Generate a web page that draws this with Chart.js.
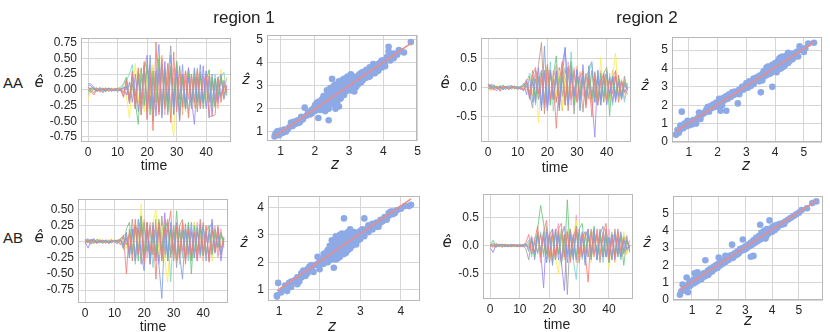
<!DOCTYPE html>
<html>
<head>
<meta charset="utf-8">
<script src="https://cdn.jsdelivr.net/npm/chart.js@4.4.1/dist/chart.umd.min.js"></script>
<style>
  body { margin: 0; background: #fff; width: 830px; height: 332px; position: relative; overflow: hidden;
         font-family: "Liberation Sans", Arial, sans-serif; color: #222; }
  canvas { position: absolute; }
  .lbl { position: absolute; transform: translate(-50%, -50%); white-space: nowrap; line-height: 1; }
</style>
</head>
<body>
<script>
// ---- data ----
const times = [0,1,2,3,4,5,6,7,8,9,10,11,12,13,14,15,16,17,18,19,20,21,22,23,
  24,25,26,27,28,29,30,31,32,33,34,35,36,37,38,39,40,41,42,43,44,45,46,47];
const timeTicks = [0, 10, 20, 30, 40];

// AA, region 1 : residuals over time
const aaR1Err = [
  [0.05,-0.03,-0.08,0.02,-0.04,0.01,0.03,-0.02,0.02,-0.01,0.03,0.00,-0.12,0.15,-0.20,0.28,-0.30,0.35,-0.40,0.45,-0.48,0.30,-0.65,0.76,-0.40,0.50,-0.30,0.42,-0.52,0.60,-0.35,0.38,-0.28,0.30,-0.45,0.25,-0.20,0.32,-0.30,0.15,0.22,-0.42,-0.42,-0.40,0.18,-0.20,0.10,-0.05],
  [0.08,0.06,0.02,-0.03,0.01,-0.02,0.00,0.03,-0.01,0.02,-0.02,0.01,0.03,0.05,-0.18,0.22,-0.10,0.30,-0.25,0.40,-0.35,0.55,-0.30,0.20,0.72,-0.45,0.35,-0.20,0.55,-0.38,0.28,-0.15,0.40,-0.30,0.20,-0.25,0.35,-0.18,0.40,-0.22,0.30,-0.45,0.25,-0.15,0.20,-0.10,0.15,-0.05],
  [-0.02,0.03,0.01,-0.02,0.04,0.00,-0.03,0.02,0.01,-0.01,0.02,0.04,0.10,0.20,-0.15,0.30,-0.20,-0.55,0.35,-0.25,0.45,-0.40,0.30,-0.20,0.50,-0.30,0.25,-0.40,0.35,-0.15,0.45,-0.35,0.20,-0.30,0.28,-0.25,0.30,-0.20,0.25,-0.30,0.15,0.32,-0.25,0.18,-0.10,0.22,-0.05,-0.08],
  [0.10,0.09,0.04,-0.02,0.03,-0.05,0.02,0.01,-0.03,0.02,0.00,-0.02,0.04,-0.08,0.12,-0.20,0.25,-0.35,0.15,0.30,0.55,-0.30,0.20,-0.42,0.35,-0.25,0.45,-0.35,0.30,-0.20,0.40,-0.48,0.25,-0.30,0.35,-0.15,-0.55,0.20,-0.25,0.38,-0.30,0.22,-0.42,0.18,-0.20,0.25,-0.15,0.08],
  [0.00,-0.04,0.02,0.03,-0.02,0.01,-0.01,0.02,0.00,-0.02,0.01,0.02,-0.10,0.18,-0.22,0.10,-0.30,0.25,-0.15,0.38,-0.28,0.20,-0.50,0.30,-0.35,0.42,-0.25,0.15,0.70,-0.40,0.30,-0.50,0.25,-0.20,0.35,-0.30,0.20,-0.35,0.28,-0.20,0.30,-0.15,0.20,-0.25,0.10,-0.12,0.06,0.00],
  [-0.15,-0.02,0.03,-0.01,0.02,-0.03,0.04,-0.02,0.01,0.03,-0.01,0.02,0.08,-0.12,-0.45,0.05,0.42,-0.20,0.30,-0.35,0.25,-0.10,0.40,-0.30,0.55,0.48,-0.20,0.30,-0.40,-0.75,0.35,-0.25,0.20,-0.35,0.30,-0.10,0.25,-0.30,0.15,0.10,-0.20,0.28,-0.35,0.20,-0.10,0.32,-0.15,0.05],
  [0.03,0.01,-0.05,0.02,0.00,0.03,-0.02,-0.01,0.02,0.00,-0.03,0.01,-0.04,0.06,-0.15,0.20,-0.28,0.15,0.32,-0.25,0.40,-0.20,0.35,-0.30,0.25,-0.40,0.30,-0.15,0.38,-0.28,0.45,-0.20,0.25,-0.35,0.30,-0.25,0.20,-0.30,0.22,-0.18,0.25,-0.20,0.15,-0.28,0.20,0.22,-0.10,0.05],
  [-0.05,0.02,0.04,-0.03,0.01,0.02,-0.02,0.03,-0.01,0.01,0.02,-0.02,0.08,0.15,0.25,0.40,-0.30,0.20,-0.40,0.28,-0.15,0.35,-0.45,0.25,-0.30,0.40,-0.20,0.30,-0.45,0.20,-0.30,0.38,-0.22,0.15,-0.40,0.25,-0.20,0.30,-0.15,0.22,-0.25,0.18,-0.30,0.25,-0.15,0.20,0.28,-0.10],
  [0.06,-0.02,0.01,0.03,-0.03,0.02,0.00,-0.02,0.03,-0.01,0.01,0.00,-0.05,0.10,-0.18,0.22,-0.12,0.30,-0.38,0.25,-0.45,0.40,-0.20,0.30,-0.35,0.55,-0.40,0.20,-0.25,0.35,-0.30,0.15,-0.20,0.30,-0.15,0.25,-0.22,0.18,-0.30,0.22,-0.15,0.20,-0.18,0.12,-0.22,0.15,-0.06,0.02],
  [-0.08,0.04,-0.01,0.02,-0.02,0.00,0.02,-0.03,0.01,0.02,-0.02,0.03,-0.03,0.02,-0.08,0.15,-0.20,0.25,-0.10,-0.30,0.20,0.38,-0.25,0.15,-0.35,0.25,-0.15,0.40,-0.28,0.18,-0.20,0.25,-0.40,0.30,-0.15,0.20,-0.28,0.35,-0.20,0.15,-0.22,0.30,-0.18,0.12,-0.30,0.25,-0.05,0.20]
];

// AA, region 2
const aaR2Err = [
  [0.05,0.02,-0.04,0.03,-0.06,0.02,0.01,-0.03,0.02,0.00,-0.02,0.03,-0.05,0.10,-0.15,0.22,0.35,-0.10,0.25,-0.30,0.40,-0.20,0.15,-0.70,0.10,0.45,-0.30,0.35,-0.20,0.30,-0.25,0.20,0.28,-0.35,0.15,-0.50,0.20,-0.30,0.10,0.25,-0.20,0.15,-0.10,0.30,-0.25,0.10,-0.05,-0.10],
  [0.02,0.06,0.03,-0.02,0.01,-0.04,0.02,0.03,-0.01,0.02,-0.03,0.01,0.08,-0.12,0.20,-0.25,0.30,0.15,-0.40,0.72,-0.35,0.30,-0.20,0.25,-0.30,0.40,0.70,-0.25,0.35,-0.15,0.30,-0.40,0.22,-0.20,0.35,0.45,-0.25,0.20,-0.30,0.15,0.25,-0.15,0.20,-0.25,0.10,-0.20,0.05,-0.02],
  [-0.03,0.04,0.00,0.02,-0.02,0.05,-0.01,0.00,0.03,-0.02,0.01,0.02,0.03,0.05,-0.08,0.15,-0.20,0.12,0.30,-0.25,0.40,-0.30,0.20,0.55,-0.20,0.35,-0.25,0.15,0.45,-0.30,0.20,-0.15,0.30,-0.25,0.38,-0.20,0.15,-0.30,0.25,-0.15,0.30,-0.48,0.20,-0.10,0.15,-0.20,0.10,0.05],
  [0.07,0.03,-0.02,-0.05,0.02,0.00,-0.03,0.02,0.04,-0.01,0.00,-0.02,-0.05,0.12,-0.18,0.10,-0.25,0.35,-0.30,0.25,-0.40,0.30,-0.20,0.28,-0.35,0.20,0.68,-0.30,0.25,-0.15,0.32,-0.22,0.40,-0.28,0.15,-0.20,-0.85,0.30,-0.20,0.25,-0.30,0.18,-0.25,0.20,-0.15,0.12,-0.08,0.02],
  [-0.02,0.01,0.05,-0.02,0.03,-0.01,0.02,-0.03,0.00,0.02,0.01,-0.02,-0.02,0.03,-0.10,-0.35,0.15,-0.20,0.10,0.30,-0.35,0.25,-0.15,0.30,-0.40,0.20,-0.30,0.35,0.40,-0.45,0.25,-0.20,0.15,-0.30,0.25,-0.15,0.28,-0.20,0.15,-0.25,0.22,-0.10,0.18,-0.20,0.10,-0.15,0.20,-0.05],
  [-0.04,0.02,0.01,0.04,-0.03,0.02,0.00,0.03,-0.02,0.01,-0.01,0.02,-0.02,0.08,0.20,-0.15,0.25,-0.60,0.15,-0.25,0.35,-0.30,0.20,-0.15,0.30,-0.35,0.25,-0.20,0.40,-0.25,0.15,-0.30,0.20,-0.15,0.25,-0.35,0.20,-0.20,0.53,-0.25,0.18,-0.30,0.20,0.60,-0.20,0.15,-0.10,0.05],
  [0.03,-0.02,0.04,0.01,-0.04,0.03,0.02,-0.02,0.01,0.03,-0.02,0.00,0.04,0.15,-0.20,0.30,-0.15,0.40,0.78,-0.45,0.25,-0.30,0.20,-0.25,0.35,-0.15,0.30,-0.40,0.25,-0.30,0.20,0.15,-0.42,0.25,-0.20,0.30,-0.15,0.20,-0.30,0.25,0.35,-0.25,0.18,-0.20,0.22,-0.12,0.08,-0.03],
  [0.06,-0.03,0.02,0.00,0.03,-0.02,0.01,0.02,-0.03,0.01,0.03,-0.01,0.04,0.10,0.25,0.15,-0.30,0.20,-0.35,0.30,-0.20,0.45,-0.40,0.25,-0.30,0.20,0.35,-0.25,0.62,-0.20,0.30,-0.35,0.25,-0.20,0.30,0.40,-0.25,0.30,-0.20,0.15,-0.28,0.25,-0.30,0.20,-0.15,0.10,-0.25,0.05],
  [-0.01,0.04,-0.03,0.02,0.01,-0.02,0.03,0.00,0.02,-0.02,0.01,0.01,0.02,-0.03,0.05,-0.12,0.20,-0.10,0.25,-0.35,0.30,-0.20,0.15,0.40,-0.25,0.30,-0.20,0.45,-0.30,0.35,-0.25,0.28,-0.15,0.20,0.30,-0.22,0.18,-0.20,0.25,-0.15,0.30,-0.25,0.20,0.28,-0.10,0.15,-0.20,0.08],
  [0.00,-0.05,0.02,-0.01,0.04,0.01,-0.02,0.01,0.00,0.03,-0.01,-0.02,-0.01,0.02,-0.05,0.10,0.25,-0.20,0.15,-0.30,0.35,-0.15,0.30,-0.25,0.20,-0.40,0.25,-0.15,0.30,-0.25,0.38,-0.20,0.15,-0.25,0.20,-0.30,0.25,-0.15,0.30,-0.20,0.15,-0.22,0.30,-0.15,0.20,-0.10,0.15,-0.12]
];

// AB, region 1
const abR1Err = [
  [0.04,-0.02,0.03,0.01,-0.03,0.02,0.00,-0.02,0.01,0.03,-0.01,0.02,-0.05,0.10,-0.50,0.20,-0.30,0.35,-0.20,0.25,-0.35,0.30,-0.15,0.20,-0.58,0.30,-0.25,0.20,0.15,0.48,-0.30,0.25,-0.20,0.30,-0.35,0.20,-0.25,0.15,-0.30,0.35,-0.20,0.25,-0.32,0.18,-0.15,0.22,-0.10,0.03],
  [0.02,0.05,-0.01,0.03,0.00,-0.02,0.02,0.01,-0.03,0.00,0.02,-0.01,0.03,-0.08,0.15,-0.25,0.20,-0.30,0.35,-0.20,-0.45,0.25,-0.30,0.20,0.15,-0.35,-0.88,0.20,-0.25,0.30,-0.15,0.25,-0.20,-0.58,0.20,-0.15,0.30,-0.25,0.15,-0.20,0.25,-0.30,0.20,0.30,-0.15,0.10,-0.20,0.05],
  [-0.02,0.03,0.00,-0.02,0.04,0.01,-0.03,0.02,0.00,-0.01,0.02,0.01,0.05,-0.10,0.20,0.30,-0.15,0.25,-0.30,0.40,-0.20,0.30,-0.25,0.15,-0.20,0.35,-0.15,0.25,-0.30,0.20,-0.25,0.48,-0.20,0.15,-0.25,0.30,-0.50,0.25,-0.15,0.20,-0.22,0.15,0.25,-0.20,0.12,-0.08,0.10,0.00],
  [0.00,-0.10,0.02,0.05,-0.02,0.01,0.03,-0.02,0.00,0.02,-0.01,-0.03,0.02,-0.04,0.06,-0.15,0.12,0.25,-0.20,0.30,-0.25,0.20,-0.35,0.25,-0.30,0.30,-0.20,0.45,-0.30,0.20,-0.15,0.30,-0.25,0.18,-0.30,0.25,-0.20,0.15,-0.30,0.28,-0.20,0.15,-0.25,0.35,-0.18,0.20,-0.30,0.05],
  [0.01,0.03,-0.04,0.02,0.00,0.03,-0.01,0.02,-0.02,0.01,0.00,0.02,0.04,0.08,-0.05,0.12,-0.20,0.25,0.15,0.40,-0.30,0.20,-0.25,0.30,-0.20,0.25,-0.30,0.15,0.35,-0.20,0.25,-0.40,0.20,-0.15,0.28,-0.20,0.15,-0.25,0.22,-0.15,0.30,-0.20,0.12,-0.18,0.20,-0.10,0.15,-0.05],
  [0.05,0.02,0.00,-0.02,0.03,0.05,0.01,-0.01,0.02,0.04,0.00,0.01,-0.02,0.08,-0.10,0.15,-0.20,0.30,-0.15,0.58,-0.30,0.20,-0.25,0.30,0.50,-0.20,0.25,-0.30,-0.63,0.20,-0.15,0.30,-0.20,0.15,-0.25,0.28,-0.10,0.30,-0.20,0.15,0.22,-0.25,0.18,-0.30,0.20,-0.10,0.15,-0.05],
  [-0.03,0.01,0.04,-0.01,0.02,0.00,-0.02,0.03,0.01,-0.02,0.03,0.00,0.05,0.10,0.12,-0.20,0.35,-0.25,0.20,-0.35,0.30,-0.15,0.25,-0.20,0.35,-0.30,0.40,-0.20,0.30,-0.25,0.15,-0.30,0.25,0.35,-0.20,0.15,-0.30,0.30,-0.18,0.25,-0.20,0.15,-0.30,0.22,-0.15,0.25,-0.20,0.08],
  [0.03,-0.01,0.02,0.04,-0.02,0.01,0.02,0.00,-0.01,0.02,0.01,-0.02,0.02,-0.12,0.08,-0.25,0.15,-0.35,0.20,-0.30,0.25,-0.15,0.20,-0.40,0.25,-0.20,0.30,-0.25,0.20,-0.62,0.25,-0.20,0.15,-0.25,0.20,-0.30,0.18,-0.15,0.25,-0.22,0.12,-0.20,0.15,-0.25,0.18,-0.10,0.12,-0.02],
  [-0.01,0.02,-0.03,0.00,0.02,-0.01,0.01,0.02,-0.02,0.00,0.01,0.03,0.01,-0.03,0.05,-0.10,0.18,-0.30,0.20,-0.15,0.35,-0.25,0.30,-0.20,0.25,-0.35,0.15,-0.25,0.30,-0.15,0.20,-0.30,0.25,-0.20,0.15,-0.28,0.22,-0.15,0.30,-0.25,0.18,-0.20,0.15,-0.10,0.25,-0.22,0.20,-0.08],
  [0.02,0.00,0.01,-0.03,0.01,0.02,-0.01,0.00,0.03,-0.01,0.02,0.00,0.01,0.00,-0.04,0.10,-0.15,0.20,-0.10,0.25,-0.20,0.30,-0.35,0.15,-0.25,0.20,-0.30,0.35,-0.15,0.25,-0.20,0.15,-0.35,0.25,-0.20,0.30,-0.15,0.20,-0.25,0.10,-0.30,0.25,0.20,-0.15,0.18,-0.25,0.12,-0.10]
];

// AB, region 2
const abR2Err = [
  [0.02,-0.03,0.04,0.01,-0.02,0.03,0.00,-0.01,0.02,0.01,-0.02,0.00,0.05,0.20,-0.15,0.10,0.35,-0.20,0.25,0.45,-0.30,0.20,-0.25,0.30,0.40,-0.20,0.25,-0.30,0.15,0.30,-0.25,0.20,-0.15,-0.65,0.25,-0.20,0.30,-0.15,0.20,0.40,-0.25,0.15,-0.20,0.30,-0.10,0.15,0.12,-0.05],
  [0.00,0.04,0.01,-0.02,0.03,0.00,-0.02,0.02,0.01,-0.01,0.02,0.01,0.01,-0.02,0.08,-0.15,0.20,-0.10,0.25,-0.30,0.20,-0.35,0.30,-0.25,0.15,0.35,-0.30,0.20,-0.25,0.30,-0.15,0.25,-0.35,0.20,-0.15,0.30,-0.25,0.20,0.35,-0.20,0.15,-0.25,0.20,-0.15,0.25,-0.10,0.18,-0.12],
  [0.01,0.10,-0.02,0.03,0.00,-0.02,0.01,0.02,-0.01,0.00,0.02,-0.01,0.03,-0.05,0.12,-0.20,0.30,0.72,0.40,-0.15,0.20,-0.30,0.25,-0.15,0.30,-0.20,0.82,-0.25,0.15,-0.20,0.30,0.40,-0.15,0.25,-0.20,0.35,-0.25,0.20,-0.15,0.25,-0.30,0.15,0.20,-0.20,0.15,-0.35,0.10,-0.03],
  [-0.03,-0.12,0.02,0.00,0.03,-0.01,0.02,-0.02,0.00,0.01,-0.01,0.02,0.04,-0.10,0.15,-0.25,0.20,-0.10,-0.75,0.25,-0.20,0.30,-0.15,0.20,-0.30,-0.80,0.25,-0.15,0.20,-0.25,0.30,-0.20,0.15,0.30,-0.25,0.20,-0.15,0.25,-0.20,0.30,-0.15,0.20,-0.25,0.15,-0.20,0.10,-0.05,0.01],
  [0.02,0.00,-0.03,0.02,0.01,0.02,-0.01,0.00,0.02,-0.02,0.01,0.00,-0.05,-0.25,0.10,-0.15,0.25,-0.20,0.15,-0.30,0.20,0.30,-0.25,0.15,-0.30,0.20,-0.87,0.25,-0.20,0.35,-0.15,0.20,-0.30,0.25,-0.20,0.15,-0.25,0.30,-0.20,0.15,-0.30,0.20,-0.15,0.25,-0.20,0.12,-0.08,0.00],
  [0.05,0.01,0.02,-0.02,0.00,0.03,-0.01,0.02,-0.03,0.01,0.00,0.02,0.02,0.01,0.05,-0.10,0.15,-0.20,0.10,0.25,-0.25,0.15,-0.20,-0.50,0.25,-0.20,0.30,-0.15,0.20,0.45,-0.25,0.20,-0.15,0.25,-0.30,0.15,-0.20,0.25,-0.15,0.20,-0.40,0.15,-0.25,0.20,-0.10,0.25,-0.15,0.05],
  [-0.02,0.03,0.00,0.02,-0.03,0.01,0.02,0.00,-0.01,0.02,0.01,-0.02,0.01,0.03,-0.08,0.05,-0.12,0.20,-0.15,0.30,-0.25,0.20,-0.20,0.25,-0.30,0.20,-0.15,0.30,-0.20,0.25,-0.30,0.15,0.25,-0.20,0.30,-0.15,0.20,-0.30,0.25,-0.20,0.15,-0.25,0.30,-0.15,0.20,-0.15,0.10,-0.10],
  [-0.01,0.02,-0.02,0.01,0.02,-0.01,0.00,0.03,0.01,-0.02,0.00,0.01,0.00,0.10,-0.20,0.15,-0.15,0.25,-0.20,0.35,-0.30,0.15,-0.25,0.30,-0.35,0.20,-0.15,0.30,-0.25,-0.60,0.20,-0.25,0.15,0.30,-0.20,0.25,-0.15,0.20,-0.30,0.15,-0.20,0.25,-0.15,0.10,-0.25,0.15,-0.05,0.02],
  [0.03,0.00,0.01,-0.01,0.02,0.00,0.01,-0.02,0.02,0.00,-0.01,0.01,-0.02,0.05,0.18,-0.10,0.15,-0.30,0.20,-0.15,0.25,-0.30,0.20,0.40,-0.25,0.15,-0.20,0.30,-0.15,0.55,-0.30,0.20,-0.15,0.25,-0.20,0.15,0.20,-0.25,0.15,-0.20,0.30,-0.15,0.25,-0.20,0.15,-0.10,0.08,-0.04],
  [0.00,-0.02,0.03,0.00,-0.01,0.02,-0.02,0.01,0.00,0.02,-0.01,0.01,0.00,0.02,-0.03,0.08,0.12,-0.25,0.20,-0.15,0.25,-0.20,0.30,-0.15,0.20,-0.25,0.30,-0.20,0.15,-0.30,0.20,-0.15,0.25,-0.20,0.15,0.30,-0.25,0.15,-0.20,0.25,-0.15,0.20,-0.30,0.15,-0.25,0.20,-0.15,0.10]
];

// observed z vs predicted z-hat, as [z, zhat]
const aaR1Pts = [[0.82,0.80],[0.85,0.92],[0.9,1.02],[0.95,0.85],[1.0,1.05],[1.05,0.95],[1.1,1.1],[1.15,1.0],[1.25,1.2],[1.3,1.4],[1.35,1.25],[1.4,1.45],[1.5,1.5],[1.55,1.4],[1.6,1.65],[1.65,1.55],[1.7,2.05],[1.75,1.7],[1.8,1.85],[1.85,1.75],[1.9,1.95],[1.95,2.0],[2.0,1.9],[2.05,2.1],[2.1,2.05],[2.1,1.6],[2.15,2.2],[2.2,2.4],[2.2,2.0],[2.25,2.3],[2.25,1.95],[2.3,2.5],[2.3,2.15],[2.35,2.8],[2.35,2.3],[2.4,2.0],[2.4,2.6],[2.4,1.5],[2.45,2.45],[2.45,2.9],[2.5,2.2],[2.5,2.55],[2.5,3.3],[2.55,2.7],[2.55,2.35],[2.6,2.0],[2.6,2.8],[2.6,3.05],[2.65,2.5],[2.65,2.9],[2.7,2.65],[2.7,3.2],[2.7,2.1],[2.75,2.8],[2.75,2.45],[2.8,3.0],[2.8,2.6],[2.85,2.95],[2.85,3.3],[2.9,2.75],[2.9,3.1],[2.95,2.85],[3.0,3.2],[3.0,2.9],[3.05,3.5],[3.05,3.05],[3.1,2.85],[3.1,3.25],[3.15,3.1],[3.2,3.4],[3.2,2.95],[3.25,3.3],[3.3,3.5],[3.3,3.15],[3.35,3.3],[3.4,3.6],[3.4,3.25],[3.45,3.45],[3.5,3.35],[3.5,3.7],[3.55,3.5],[3.6,3.8],[3.6,3.4],[3.65,3.6],[3.7,3.95],[3.7,3.55],[3.75,3.7],[3.8,3.85],[3.85,3.65],[3.9,4.0],[3.95,3.8],[4.0,4.1],[4.0,3.9],[4.05,4.05],[4.1,4.25],[4.15,4.5],[4.2,4.1],[4.25,4.3],[4.3,4.4],[4.4,4.35],[4.45,4.55],[4.8,4.9],[2.05,2.25],[2.15,1.95],[2.55,3.0],[2.65,2.2],[2.95,3.4],[3.15,2.75],[3.35,3.55],[1.45,1.35],
  [2.2,2.15],[2.25,2.55],[2.3,1.9],[2.35,2.1],[2.4,2.75],[2.45,2.25],[2.5,2.4],[2.5,2.85],[2.55,2.2],[2.6,2.55],[2.6,2.35],[2.65,2.75],[2.7,2.95],[2.7,2.4],[2.75,3.05],[2.8,2.75],[2.8,3.25],[2.85,2.6],[2.9,3.0],[2.95,3.15],[3.0,3.05],[3.05,2.8],[3.1,3.1],[3.15,3.35],[3.2,3.2],[3.25,3.05],[3.3,3.35],[3.35,3.15],[3.45,3.6],[3.55,3.65],[3.65,3.75],[3.75,3.55],[3.85,3.95],[3.95,4.1],[4.05,3.85],[4.15,4.15],[4.3,4.2],[4.5,4.5],[4.6,4.45],[1.2,1.1],[1.6,1.5],[1.9,1.8],[2.0,2.15],[2.1,2.3],[2.4,2.4],[2.55,2.5],[2.65,2.65],[2.9,2.95],[3.4,3.4],[4.15,4.7]];

const aaR2Pts = [[0.55,0.40],[0.6,0.65],[0.65,0.5],[0.7,0.9],[0.75,1.65],[0.8,0.75],[0.85,1.0],[0.9,0.85],[0.95,1.15],[1.0,0.9],[1.05,1.1],[1.1,0.95],[1.15,1.2],[1.2,1.05],[1.3,1.3],[1.35,1.6],[1.4,1.25],[1.45,1.5],[1.55,1.6],[1.6,1.75],[1.65,1.9],[1.7,1.65],[1.75,1.95],[1.8,1.85],[1.85,2.05],[1.9,1.9],[1.95,2.15],[2.0,2.05],[2.05,2.35],[2.1,2.2],[2.15,2.0],[2.2,2.4],[2.25,2.3],[2.3,2.5],[2.35,2.35],[2.1,1.7],[2.3,1.7],[2.4,2.6],[2.45,2.45],[2.5,2.7],[2.55,2.55],[2.6,2.75],[2.7,2.1],[2.7,2.65],[2.75,2.85],[2.8,2.8],[2.85,3.0],[2.9,2.85],[2.95,3.05],[3.0,3.2],[3.0,2.95],[3.05,3.1],[3.1,3.3],[3.15,3.05],[3.2,3.25],[3.25,3.45],[3.3,3.3],[3.35,3.5],[3.4,3.35],[3.45,3.6],[3.5,2.7],[3.5,3.45],[3.55,3.7],[3.6,3.55],[3.6,3.85],[3.65,3.6],[3.7,3.9],[3.7,3.65],[3.75,3.8],[3.8,4.0],[3.8,3.7],[3.85,3.95],[3.9,3.0],[3.9,4.2],[3.9,3.85],[3.95,4.05],[4.0,4.3],[4.0,3.9],[4.05,4.1],[4.1,4.4],[4.1,3.95],[4.15,4.2],[4.2,4.6],[4.2,4.0],[4.25,4.35],[4.3,4.5],[4.3,4.1],[4.35,4.4],[4.4,4.7],[4.45,4.3],[4.5,4.55],[4.55,4.75],[4.6,4.5],[4.7,4.8],[4.8,4.65],[4.85,5.2],[5.0,4.9],[5.15,5.35],[5.35,5.4],[4.25,4.65],[4.45,4.85],[4.05,3.8],[3.75,4.1],[4.15,4.55],[3.55,3.35],[1.25,1.0],[2.75,2.6],[3.25,3.15],[4.35,4.2],
  [3.4,3.5],[3.45,3.3],[3.5,3.6],[3.55,3.55],[3.6,3.7],[3.65,3.8],[3.7,3.75],[3.75,3.95],[3.8,3.85],[3.85,4.1],[3.85,3.75],[3.9,4.0],[3.95,4.2],[3.95,3.9],[4.0,4.05],[4.05,4.3],[4.05,3.95],[4.1,4.15],[4.15,4.4],[4.15,4.0],[4.2,4.25],[4.25,4.5],[4.25,4.15],[4.3,4.3],[4.35,4.6],[4.4,4.45],[4.45,4.6],[4.5,4.4],[4.55,4.6],[4.6,4.8],[4.65,4.6],[4.75,4.9],[2.95,3.0],[3.05,2.95],[3.15,3.25],[3.25,3.2],[3.35,3.4],[2.6,2.6],[2.85,2.9],[1.85,1.95],[2.0,1.95],[2.2,2.25],[1.7,1.8],[1.5,1.55],[0.9,0.95],[1.1,1.05],[0.7,0.7],[5.05,5.1],[4.9,5.0],[3.7,4.05]];

const abR1Pts = [[0.95,0.75],[0.95,0.8],[0.98,1.25],[1.05,0.9],[1.1,1.0],[1.15,1.15],[1.2,0.95],[1.25,1.25],[1.3,1.1],[1.35,1.3],[1.4,1.35],[1.45,1.45],[1.5,1.3],[1.55,1.6],[1.6,1.7],[1.65,1.5],[1.7,1.6],[1.75,1.85],[1.8,1.75],[1.85,1.65],[1.9,1.9],[1.95,2.2],[2.0,2.0],[2.0,1.75],[2.05,2.1],[2.1,2.3],[2.1,1.95],[2.15,2.15],[2.2,2.45],[2.2,2.0],[2.25,2.6],[2.25,2.25],[2.3,2.8],[2.3,2.1],[2.35,1.8],[2.35,2.5],[2.4,2.95],[2.4,2.3],[2.4,2.1],[2.45,2.7],[2.45,2.45],[2.5,3.0],[2.5,2.2],[2.5,2.6],[2.55,2.85],[2.55,2.4],[2.6,3.6],[2.6,2.7],[2.6,2.3],[2.65,3.05],[2.65,2.55],[2.7,2.85],[2.7,2.45],[2.75,3.2],[2.75,2.7],[2.8,2.95],[2.8,2.6],[2.85,3.1],[2.85,2.75],[2.9,2.9],[2.9,2.65],[2.95,3.0],[3.0,3.15],[3.0,2.85],[3.05,3.05],[3.1,3.6],[3.1,2.95],[3.15,3.2],[3.2,3.1],[3.25,3.3],[3.3,3.2],[3.35,3.35],[3.4,3.45],[3.45,3.3],[3.5,3.55],[3.55,3.5],[3.6,3.65],[3.65,3.55],[3.7,3.7],[3.75,3.85],[3.8,3.75],[3.85,3.8],[4.1,4.05],[4.2,4.05],[4.25,4.1],[2.35,2.65],[2.45,2.15],[2.55,2.95],[2.65,2.35],[2.7,3.1],[2.45,2.55],[2.55,2.65],[2.35,2.35],[2.6,2.85],[2.75,2.5],[2.85,3.0],[1.45,1.2],[3.2,3.35],[2.95,2.8],[2.3,2.6],
  [2.25,2.4],[2.3,2.35],[2.35,2.2],[2.4,2.55],[2.4,2.75],[2.45,2.35],[2.5,2.45],[2.5,2.75],[2.55,2.55],[2.55,3.05],[2.6,2.5],[2.6,2.95],[2.65,2.7],[2.65,2.85],[2.7,2.65],[2.7,2.95],[2.75,2.85],[2.75,3.0],[2.8,2.8],[2.8,3.1],[2.85,2.85],[2.9,3.05],[2.95,2.95],[3.0,3.0],[3.05,3.2],[3.1,3.1],[3.2,3.25],[3.3,3.4],[3.4,3.3],[3.5,3.45],[3.6,3.6],[3.7,3.8],[3.8,3.85],[3.9,3.9],[4.0,3.95],[2.2,2.2],[2.15,2.35],[2.05,1.95],[1.95,1.95],[1.8,1.9],[1.7,1.75],[1.55,1.45],[1.3,1.3],[2.3,2.45],[2.5,2.35],[2.6,2.6],[2.8,2.7],[2.9,2.8],[3.0,2.95],[2.45,2.85]];

const abR2Pts = [[0.55,0.3],[0.6,0.5],[0.65,0.9],[0.7,0.65],[0.75,0.55],[0.8,1.3],[0.8,0.8],[0.85,0.45],[0.9,1.0],[0.95,0.85],[1.0,1.1],[1.05,0.95],[1.1,1.2],[1.1,1.55],[1.15,1.05],[1.2,1.3],[1.25,1.15],[1.3,1.4],[1.35,1.2],[1.4,1.5],[1.45,1.35],[1.5,2.3],[1.5,1.55],[1.55,1.45],[1.6,1.7],[1.65,1.55],[1.7,1.8],[1.75,1.65],[1.8,1.9],[1.85,1.8],[1.9,2.0],[1.95,1.85],[2.0,2.1],[2.0,2.45],[2.05,2.0],[2.1,2.25],[2.15,2.1],[2.2,2.3],[2.25,2.2],[2.3,2.45],[2.35,2.3],[2.4,2.55],[2.45,2.4],[2.5,3.2],[2.5,2.6],[2.55,2.45],[2.6,2.7],[2.65,2.6],[2.7,2.8],[2.75,2.7],[2.8,2.95],[2.85,2.85],[2.9,3.5],[2.9,3.0],[2.95,2.9],[3.0,3.1],[3.05,3.0],[3.1,3.2],[3.15,3.1],[3.2,2.5],[3.2,3.3],[3.25,3.2],[3.3,2.55],[3.3,3.45],[3.35,3.35],[3.4,3.6],[3.45,3.4],[3.5,3.7],[3.5,3.5],[3.55,3.65],[3.6,3.9],[3.6,3.55],[3.65,3.75],[3.7,4.0],[3.7,3.7],[3.75,3.85],[3.8,4.1],[3.8,3.75],[3.85,3.95],[3.9,4.6],[3.9,3.9],[3.95,4.05],[4.0,4.2],[4.0,3.95],[4.05,4.1],[4.1,4.3],[4.15,4.15],[4.2,4.35],[4.3,4.4],[4.4,4.45],[4.5,4.55],[4.6,4.65],[4.7,4.75],[4.8,4.85],[4.9,4.95],[5.0,5.05],[5.1,5.2],[5.3,5.3],[5.5,5.6],[5.65,5.7],[3.55,4.35],[3.75,3.55],[1.2,1.6],[2.25,2.55],[1.6,1.45],
  [1.0,0.95],[1.05,1.15],[1.1,1.0],[1.15,1.25],[1.2,1.1],[1.25,1.3],[1.3,1.25],[1.35,1.45],[1.4,1.35],[1.45,1.55],[1.5,1.4],[1.55,1.6],[1.6,1.6],[1.65,1.75],[1.7,1.7],[1.75,1.8],[1.8,1.75],[1.85,1.95],[1.9,1.85],[1.95,2.05],[2.05,2.15],[2.15,2.25],[2.3,2.35],[2.45,2.5],[2.6,2.65],[2.7,2.65],[2.85,2.95],[3.0,2.95],[3.15,3.2],[3.25,3.35],[3.35,3.3],[3.4,3.45],[3.45,3.55],[3.55,3.5],[3.6,3.7],[3.65,3.6],[3.7,3.85],[3.75,3.7],[3.85,3.85],[3.9,4.1],[3.95,3.95],[4.05,4.25],[4.1,4.05],[4.2,4.2],[4.25,4.3],[4.35,4.35],[4.45,4.4],[0.7,0.75],[0.9,0.8],[0.95,1.05]];

// tick labels
const eTicksAA1 = [-0.75,-0.5,-0.25,0,0.25,0.5,0.75];
const eTicksAB1 = [-0.75,-0.5,-0.25,0,0.25,0.5];
const eTicksR2 = [-0.5,0,0.5];
const zTicks4 = [1,2,3,4];
const zTicks5 = [1,2,3,4,5];
const zTicks05 = [0,1,2,3,4,5];

// ---- drawing ----
Chart.defaults.font.family = '"Liberation Sans", Arial, sans-serif';
Chart.defaults.font.size = 12;
Chart.defaults.color = '#262626';

const lineColors = ['rgba(244,128,116,0.85)','rgba(128,158,235,0.85)','rgba(108,198,128,0.85)',
  'rgba(160,135,240,0.85)','rgba(160,160,160,0.85)','rgba(246,238,96,0.9)','rgba(192,152,132,0.85)',
  'rgba(128,214,204,0.85)','rgba(244,160,200,0.85)','rgba(244,180,110,0.85)'];
const PAD_L = 46, PAD_T = 4, PAD_R = 4, PAD_B = 22;

const boxPlugin = {
  id: 'box',
  afterDraw(chart) {
    const a = chart.chartArea, c = chart.ctx;
    c.save();
    c.strokeStyle = '#b8b8b8';
    c.lineWidth = 1;
    c.strokeRect(Math.round(a.left) + 0.5, Math.round(a.top) + 0.5,
                 Math.round(a.right - a.left) - 1, Math.round(a.bottom - a.top) - 1);
    c.restore();
  }
};

function fitLine(pts) {
  const n = pts.length;
  let sx = 0, sy = 0, sxx = 0, sxy = 0;
  pts.forEach(([x, y]) => { sx += x; sy += y; sxx += x * x; sxy += x * y; });
  const b = (n * sxy - sx * sy) / (n * sxx - sx * sx);
  const a = (sy - b * sx) / n;
  const xs = pts.map(p => p[0]);
  const lo = Math.min(...xs), hi = Math.max(...xs);
  return [{ x: lo, y: a + b * lo }, { x: hi, y: a + b * hi }];
}

function axis(min, max, ticks, dec, isY) {
  return {
    type: 'linear', min, max,
    grid: { color: '#d6d6d6', lineWidth: 1, drawTicks: false },
    border: { display: false },
    ticks: { autoSkip: false, maxRotation: 0, padding: isY ? 4 : 3,
             callback: v => dec == null ? v : Number(v).toFixed(dec) },
    afterBuildTicks: s => { s.ticks = ticks.map(v => ({ value: v })); },
    afterFit: s => { if (isY) s.width = PAD_L; else s.height = PAD_B; }
  };
}

function makePanel(p) {
  const [l, t, r, b] = p.box;
  const cv = document.createElement('canvas');
  cv.width = r - l + PAD_L + PAD_R;
  cv.height = b - t + PAD_T + PAD_B;
  cv.style.left = (l - PAD_L) + 'px';
  cv.style.top = (t - PAD_T) + 'px';
  document.body.appendChild(cv);

  let datasets;
  if (p.series) {
    datasets = p.series.map((s, i) => ({
      data: times.map((tm, k) => ({ x: tm, y: s[k] })),
      borderColor: lineColors[i % lineColors.length],
      borderWidth: 1, pointRadius: 0, tension: 0, fill: false
    }));
  } else {
    datasets = [
      { type: 'line', data: fitLine(p.pts), borderColor: '#f08a82', borderWidth: 1.5, pointRadius: 0, fill: false },
      { data: p.pts.map(([x, y]) => ({ x, y })), backgroundColor: '#8eaae6', borderWidth: 0, pointRadius: 3.3 }
    ];
  }

  new Chart(cv, {
    type: p.series ? 'line' : 'scatter',
    data: { datasets },
    options: {
      responsive: false, animation: false,
      layout: { padding: { top: PAD_T, right: PAD_R, left: 0, bottom: 0 } },
      plugins: { legend: { display: false }, tooltip: { enabled: false } },
      scales: {
        x: axis(p.x[0], p.x[1], p.xt, null, false),
        y: axis(p.y[0], p.y[1], p.yt, p.dec, true)
      }
    },
    plugins: [boxPlugin]
  });
}

[
  { series: aaR1Err, box: [81, 31, 231, 142], x: [-2.4, 48.4], y: [-0.83, 0.82], xt: timeTicks, yt: eTicksAA1, dec: 2 },
  { pts: aaR1Pts, box: [267, 28, 420, 141], x: [0.6, 4.97], y: [0.6, 5.2], xt: zTicks5, yt: zTicks5 },
  { series: aaR2Err, box: [481, 31, 631, 142], x: [-2.4, 48.2], y: [-0.935, 0.855], xt: timeTicks, yt: eTicksR2, dec: 1 },
  { pts: aaR2Pts, box: [672, 30, 822, 142], x: [0.41, 5.63], y: [0, 5.7], xt: zTicks5, yt: zTicks05 },
  { series: abR1Err, box: [78, 192, 228, 303], x: [-2.4, 48.4], y: [-0.95, 0.66], xt: timeTicks, yt: eTicksAB1, dec: 2 },
  { pts: abR1Pts, box: [268, 189, 420, 301], x: [0.73, 4.47], y: [0.59, 4.41], xt: zTicks4, yt: zTicks4 },
  { series: abR2Err, box: [483, 187, 633, 299], x: [-2.4, 48.1], y: [-0.95, 0.92], xt: timeTicks, yt: eTicksR2, dec: 1 },
  { pts: abR2Pts, box: [673, 189, 823, 300], x: [0.29, 5.9], y: [0, 6.0], xt: zTicks5, yt: zTicks05 }
].forEach(makePanel);

// titles and axis labels
const labels = [
  ['region 1', 244, 17, 17, false], ['region 2', 647, 17, 17, false],
  ['AA', 13, 82, 15, false], ['AB', 13, 237, 15, false],
  ['ê', 39, 82, 15, true], ['ê', 445, 83, 15, true], ['ê', 39, 237, 15, true], ['ê', 447, 242, 15, true],
  ['ẑ', 246, 79, 14, true], ['ẑ', 645, 85, 14, true], ['ẑ', 244, 242, 14, true], ['ẑ', 647, 242, 14, true],
  ['time', 154, 165, 14, false], ['time', 555, 167, 14, false], ['time', 153, 326, 14, false], ['time', 557, 324, 14, false],
  ['z', 335, 164, 15, true], ['z', 746, 165, 15, true], ['z', 332, 326, 15, true], ['z', 748, 320, 15, true]
];
labels.forEach(([txt, x, y, size, it]) => {
  const d = document.createElement('div');
  d.className = 'lbl';
  d.textContent = txt;
  d.style.left = x + 'px';
  d.style.top = y + 'px';
  d.style.fontSize = size + 'px';
  if (it) { d.style.fontStyle = 'italic'; d.style.fontFamily = '"DejaVu Sans", sans-serif'; }
  document.body.appendChild(d);
});
</script>
</body>
</html>
